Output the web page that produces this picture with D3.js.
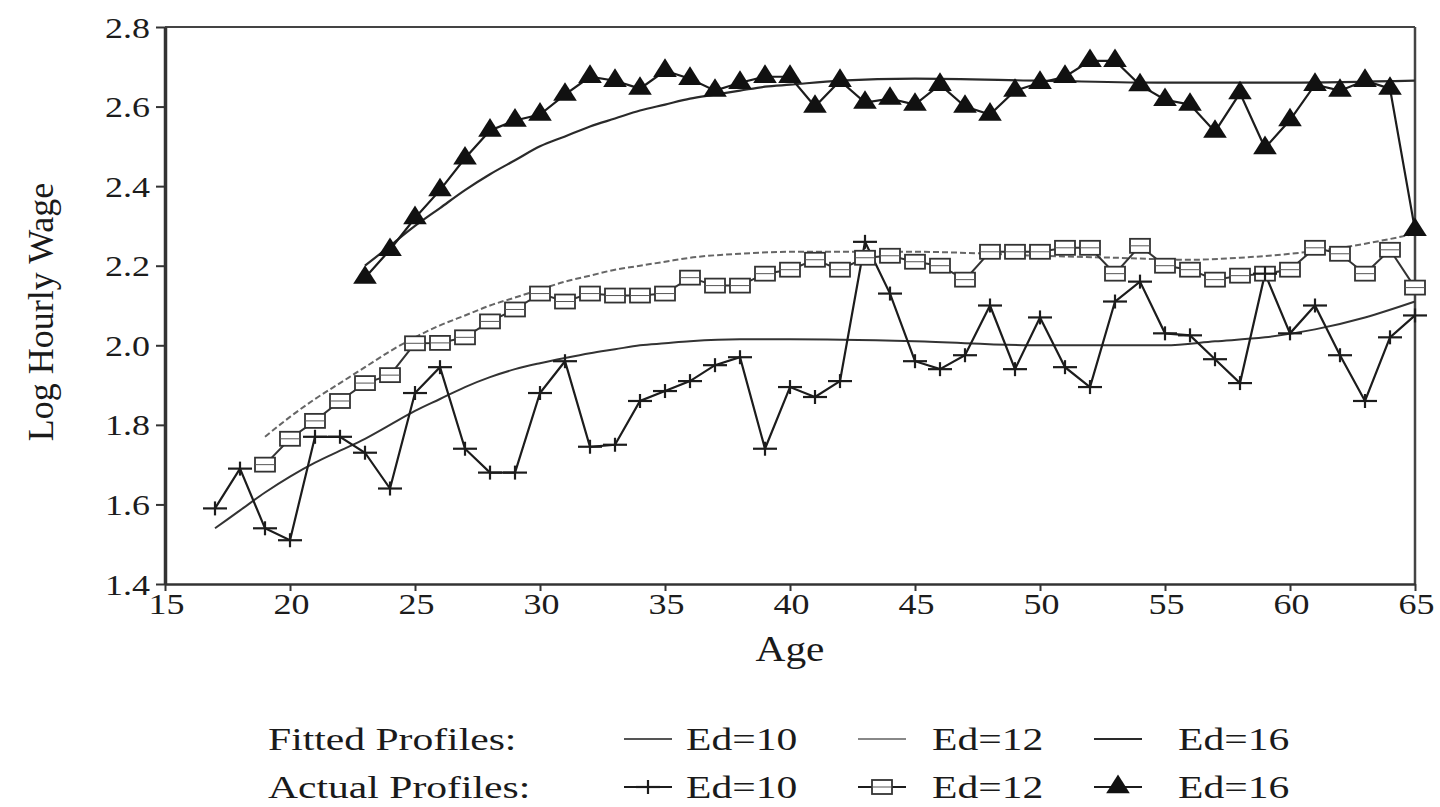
<!DOCTYPE html>
<html><head><meta charset="utf-8">
<script src="https://cdn.jsdelivr.net/npm/d3@7"></script>
<style>
html,body{margin:0;padding:0;background:#fff;}
text{font-family:"Liberation Serif","DejaVu Serif",serif;fill:#1a1a1a;}
</style></head>
<body><svg id="c" width="1440" height="807"></svg>
<script>
// ---- data ----
const xTicks = [15,20,25,30,35,40,45,50,55,60,65];
const yTicks = [1.4,1.6,1.8,2.0,2.2,2.4,2.6,2.8];

const ages10 = [17,18,19,20,21,22,23,24,25,26,27,28,29,30,31,32,33,34,35,36,37,38,39,40,41,42,43,44,45,46,47,48,49,50,51,52,53,54,55,56,57,58,59,60,61,62,63,64,65];
const actual10 = [1.59,1.69,1.54,1.51,1.77,1.77,1.73,1.64,1.88,1.945,1.74,1.68,1.68,1.88,1.96,1.745,1.75,1.86,1.885,1.91,1.95,1.97,1.74,1.895,1.87,1.91,2.26,2.13,1.96,1.94,1.975,2.10,1.94,2.07,1.945,1.895,2.11,2.16,2.03,2.025,1.965,1.905,2.18,2.03,2.10,1.975,1.86,2.02,2.075];

const ages12 = [19,20,21,22,23,24,25,26,27,28,29,30,31,32,33,34,35,36,37,38,39,40,41,42,43,44,45,46,47,48,49,50,51,52,53,54,55,56,57,58,59,60,61,62,63,64,65];
const actual12 = [1.70,1.765,1.81,1.86,1.905,1.925,2.005,2.006,2.02,2.06,2.09,2.13,2.11,2.13,2.125,2.125,2.13,2.17,2.15,2.15,2.18,2.19,2.215,2.19,2.22,2.225,2.21,2.20,2.165,2.235,2.235,2.235,2.245,2.245,2.18,2.25,2.20,2.19,2.165,2.175,2.18,2.19,2.245,2.23,2.18,2.24,2.145];

const ages16 = [23,24,25,26,27,28,29,30,31,32,33,34,35,36,37,38,39,40,41,42,43,44,45,46,47,48,49,50,51,52,53,54,55,56,57,58,59,60,61,62,63,64,65];
const actual16 = [2.17,2.24,2.32,2.39,2.47,2.54,2.565,2.58,2.63,2.675,2.665,2.645,2.69,2.67,2.64,2.66,2.675,2.675,2.60,2.665,2.61,2.62,2.605,2.655,2.60,2.58,2.64,2.66,2.675,2.715,2.715,2.654,2.617,2.605,2.537,2.634,2.496,2.566,2.655,2.64,2.665,2.645,2.29];

const fitAges10 = [17,18,19,20,21,22,23,24,25,26,27,28,29,30,31,32,33,34,35,36,38,40,45,50,55,57,59,61,63,65];
const fitted10  = [1.54,1.585,1.63,1.67,1.705,1.735,1.765,1.80,1.835,1.865,1.895,1.92,1.94,1.955,1.968,1.98,1.99,2.0,2.005,2.01,2.015,2.015,2.01,2.0,2.0,2.01,2.02,2.04,2.07,2.11];

const fitAges12 = [19,20,21,22,23,24,25,26,27,28,29,30,31,32,33,34,35,36,38,40,45,50,53,56,58,60,62,65];
const fitted12  = [1.77,1.82,1.865,1.905,1.945,1.985,2.02,2.05,2.075,2.10,2.12,2.14,2.16,2.175,2.19,2.20,2.21,2.22,2.23,2.235,2.235,2.225,2.22,2.215,2.22,2.23,2.245,2.28];

const fitAges16 = [23,24,25,26,27,28,29,30,31,32,33,34,35,36,37,38,39,40,42,45,50,55,60,65];
const fitted16  = [2.20,2.25,2.30,2.345,2.39,2.43,2.465,2.50,2.525,2.55,2.57,2.59,2.605,2.62,2.63,2.64,2.65,2.655,2.665,2.67,2.665,2.66,2.66,2.665];

const legendLabels = ["Ed=10","Ed=12","Ed=16"];

// ---- chart ----
const svg = d3.select("#c");
const L=165, R=1415, T=27, B=584;
const x = d3.scaleLinear().domain([15,65]).range([L,R]);
const y = d3.scaleLinear().domain([1.4,2.8]).range([B,T]);
const ink = "#1c1c1c";
const KT = 1.2;   // horizontal stretch of tick labels
const KL = 1.3;   // horizontal stretch of legend text

function stext(g, tx, ty, k, size, str, anchor){
  return g.append("text").attr("transform",`translate(${tx},${ty}) scale(${k},1)`)
    .attr("font-size",size).attr("text-anchor",anchor||"start").text(str);
}

// frame
svg.append("line").attr("x1",L).attr("x2",R).attr("y1",T).attr("y2",T).attr("stroke","#444").attr("stroke-width",2);
svg.append("line").attr("x1",R).attr("x2",R).attr("y1",T).attr("y2",B).attr("stroke","#444").attr("stroke-width",2.5);

// axes
const yAxis = d3.axisLeft(y).tickValues(yTicks).tickFormat(d3.format(".1f")).tickSizeInner(9).tickSizeOuter(0);
const gy = svg.append("g").attr("transform",`translate(${L},0)`).call(yAxis);
gy.select(".domain").attr("stroke","#333").attr("stroke-width",3.5);
gy.selectAll(".tick line").attr("stroke","#333").attr("stroke-width",2);
gy.selectAll(".tick text").attr("font-size",30).attr("x",null).attr("dy",null)
  .attr("transform",`translate(-15,10) scale(${KT},1)`).style("fill",ink)
  .attr("font-family","Liberation Serif");

const xAxis = d3.axisBottom(x).tickValues(xTicks).tickSizeInner(7).tickSizeOuter(0);
const gx = svg.append("g").attr("transform",`translate(0,${B})`).call(xAxis);
gx.select(".domain").attr("stroke","#333").attr("stroke-width",2.5);
gx.selectAll(".tick line").attr("stroke","#333").attr("stroke-width",2);
gx.selectAll(".tick text").attr("font-size",30).attr("y",null).attr("dy",null)
  .attr("transform",`translate(1,30) scale(${KT},1)`).style("fill",ink)
  .attr("font-family","Liberation Serif");

// axis titles
stext(svg, 790, 661, 1.15, 36, "Age", "middle");
svg.append("text").attr("transform","translate(53,312) rotate(-90)").attr("text-anchor","middle")
  .attr("font-size",36).text("Log Hourly Wage");

// fitted lines
const fitLine = d3.line().x(d=>x(d[0])).y(d=>y(d[1])).curve(d3.curveMonotoneX);
function zip(a,b){return a.map((v,i)=>[v,b[i]]);}
svg.append("path").datum(zip(fitAges10,fitted10)).attr("d",fitLine).attr("fill","none").attr("stroke","#333").attr("stroke-width",2);
svg.append("path").datum(zip(fitAges12,fitted12)).attr("d",fitLine).attr("fill","none").attr("stroke","#666").attr("stroke-width",2).attr("stroke-dasharray","6,3");
svg.append("path").datum(zip(fitAges16,fitted16)).attr("d",fitLine).attr("fill","none").attr("stroke","#2a2a2a").attr("stroke-width",2.2);

// actual lines
const lin = d3.line().x(d=>x(d[0])).y(d=>y(d[1]));
const d10 = zip(ages10,actual10), d12 = zip(ages12,actual12), d16 = zip(ages16,actual16);
svg.append("path").datum(d12).attr("d",lin).attr("fill","none").attr("stroke","#333").attr("stroke-width",2);
svg.append("path").datum(d10).attr("d",lin).attr("fill","none").attr("stroke",ink).attr("stroke-width",2.2);
svg.append("path").datum(d16).attr("d",lin).attr("fill","none").attr("stroke",ink).attr("stroke-width",2.2);

// markers
function plus(g,cx,cy){
  g.append("line").attr("x1",cx-12).attr("x2",cx+12).attr("y1",cy).attr("y2",cy).attr("stroke",ink).attr("stroke-width",2.2);
  g.append("line").attr("x1",cx).attr("x2",cx).attr("y1",cy-7).attr("y2",cy+7).attr("stroke",ink).attr("stroke-width",2.2);
}
function square(g,cx,cy){
  g.append("rect").attr("x",cx-10).attr("y",cy-7).attr("width",20).attr("height",14).attr("fill","#fff").attr("stroke","#333").attr("stroke-width",1.8);
  g.append("line").attr("x1",cx-10).attr("x2",cx+10).attr("y1",cy).attr("y2",cy).attr("stroke","#555").attr("stroke-width",1);
}
const tri = d3.symbol().type(d3.symbolTriangle).size(200);
function triangle(g,cx,cy){
  g.append("path").attr("d",tri()).attr("transform",`translate(${cx},${cy}) scale(1.1,1)`).attr("fill","#111");
}
const m12 = svg.append("g"); d12.forEach(d=>square(m12,x(d[0]),y(d[1])));
const m10 = svg.append("g"); d10.forEach(d=>plus(m10,x(d[0]),y(d[1])));
const m16 = svg.append("g"); d16.forEach(d=>triangle(m16,x(d[0]),y(d[1])));

// legend
const lg = svg.append("g");
const row1 = 750, row2 = 798;
stext(lg, 268, row1, KL, 32, "Fitted Profiles:");
stext(lg, 268, row2, KL, 32, "Actual Profiles:");
const itemX = [624, 858, 1094];
const textX = [686, 932, 1178];
const fitColors = ["#555","#888","#2a2a2a"];
legendLabels.forEach((lab,i)=>{
  lg.append("line").attr("x1",itemX[i]).attr("x2",itemX[i]+48).attr("y1",739).attr("y2",739)
    .attr("stroke",fitColors[i]).attr("stroke-width",2.2);
  stext(lg, textX[i], row1, KL, 32, lab);
  lg.append("line").attr("x1",itemX[i]).attr("x2",itemX[i]+48).attr("y1",787).attr("y2",787)
    .attr("stroke",ink).attr("stroke-width",2.2);
  stext(lg, textX[i], row2, KL, 32, lab);
});
plus(lg,itemX[0]+24,787);
square(lg,itemX[1]+24,787);
triangle(lg,itemX[2]+24,787);
</script></body></html>
